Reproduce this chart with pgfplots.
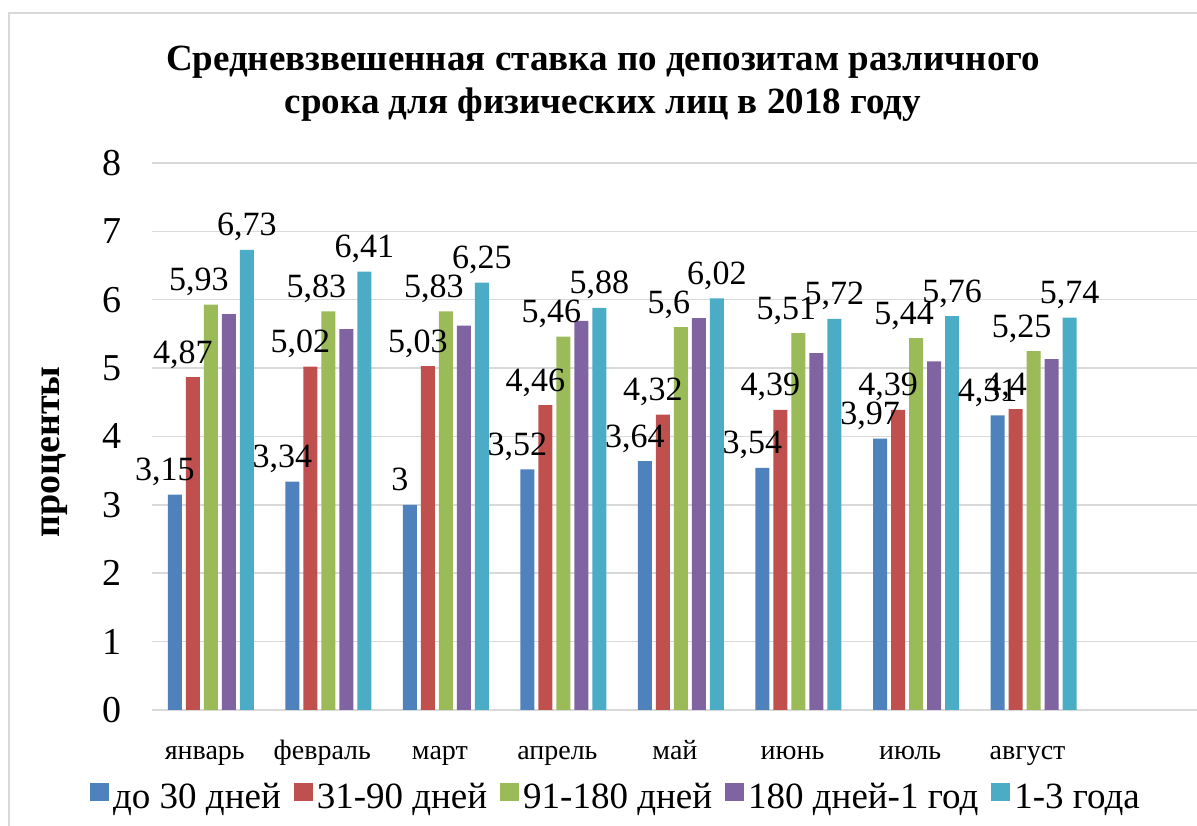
\documentclass[border=0pt]{standalone}
\usepackage{fontspec}
\setmainfont{Liberation Serif}
\usepackage{pgfplots}
\pgfplotsset{compat=1.18}
\definecolor{c1}{HTML}{4F81BD}
\definecolor{c2}{HTML}{C0504D}
\definecolor{c3}{HTML}{9BBB59}
\definecolor{c4}{HTML}{8064A2}
\definecolor{c5}{HTML}{4BACC6}
\definecolor{gridc}{HTML}{D9D9D9}
\begin{document}
\begin{tikzpicture}[x=1bp,y=1bp]
\clip (0,0) rectangle (1197,826);
\draw[color=gridc, line width=1.5bp] (9,813) rectangle (1260,-60);
\node[font=\bfseries\fontsize{37bp}{43bp}\selectfont, anchor=base] at (603,755) {Средневзвешенная ставка по депозитам различного};
\node[font=\bfseries\fontsize{37bp}{43bp}\selectfont, anchor=base] at (603,712) {срока для физических лиц в 2018 году};
\node[font=\bfseries\fontsize{38bp}{43bp}\selectfont, rotate=90] at (55,374) {проценты};
\begin{axis}[
  at={(152bp,116bp)}, anchor=south west,
  scale only axis, width=1045bp, height=547bp,
  xmin=-0.5, xmax=8.39, ymin=0, ymax=8,
  ybar=4bp, bar width=14bp,
  axis line style={draw=none},
  xtick={0,...,7},
  xticklabels={январь,февраль,март,апрель,май,июнь,июль,август},
  ytick={0,...,8},
  major tick length=0pt,
  ymajorgrids, grid style={color=gridc, line width=1.5bp},
  /pgf/number format/assume math mode=true,
  /pgf/number format/use comma,
  /pgf/number format/1000 sep={},
  yticklabel style={font=\rmfamily\fontsize{38bp}{40bp}\selectfont, xshift=-27bp},
  xticklabel style={font=\rmfamily\fontsize{28bp}{30bp}\selectfont, anchor=base, yshift=-50bp, xshift=-6bp},
  every node near coord/.append style={font=\rmfamily\fontsize{34bp}{36bp}\selectfont, anchor=base, yshift=14bp, inner sep=0pt, text=black},
  legend columns=-1,
  legend style={draw=none, fill=none, at={(rel axis cs:0.445,-0.159)}, anchor=center,
    font=\rmfamily\fontsize{37bp}{39bp}\selectfont,
    nodes={inner sep=4bp},
    /tikz/every even column/.append style={column sep=9bp}},
  legend image code/.code={\fill[#1] (0bp,-4bp) rectangle (19bp,14bp);},
]
\addplot[fill=c1, draw=none, nodes near coords, every node near coord/.append style={xshift=-10bp}] coordinates {(0,3.15) (1,3.34) (2,3) (3,3.52) (4,3.64) (5,3.54) (6,3.97) (7,4.31)};
\addplot[fill=c2, draw=none, nodes near coords, every node near coord/.append style={xshift=-10bp}] coordinates {(0,4.87) (1,5.02) (2,5.03) (3,4.46) (4,4.32) (5,4.39) (6,4.39) (7,4.4)};
\addplot[fill=c3, draw=none, nodes near coords, every node near coord/.append style={xshift=-12bp}] coordinates {(0,5.93) (1,5.83) (2,5.83) (3,5.46) (4,5.6) (5,5.51) (6,5.44) (7,5.25)};
\addplot[fill=c4, draw=none] coordinates {(0,5.79) (1,5.57) (2,5.62) (3,5.69) (4,5.73) (5,5.22) (6,5.10) (7,5.13)};
\addplot[fill=c5, draw=none, nodes near coords] coordinates {(0,6.73) (1,6.41) (2,6.25) (3,5.88) (4,6.02) (5,5.72) (6,5.76) (7,5.74)};
\legend{до 30 дней, 31-90 дней, 91-180 дней, 180 дней-1 год, 1-3 года}
\end{axis}
\end{tikzpicture}
\end{document}
